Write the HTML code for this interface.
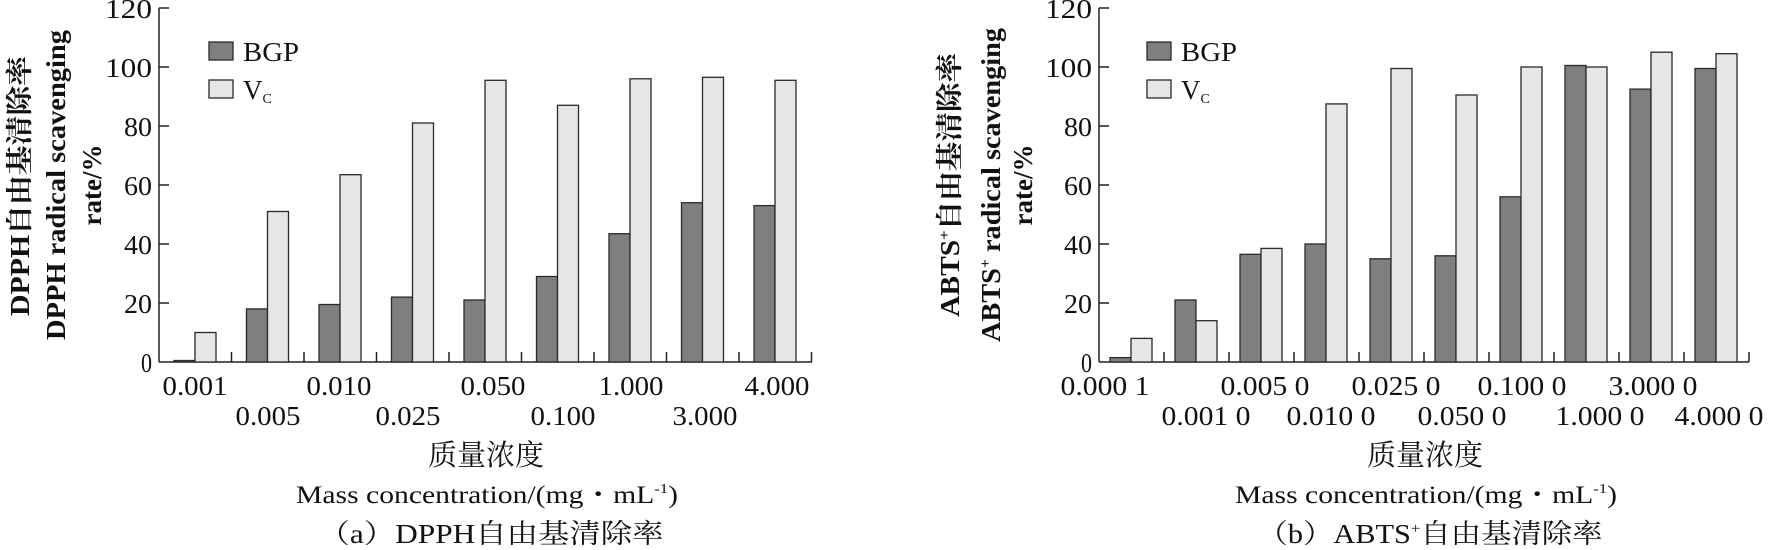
<!DOCTYPE html>
<html><head><meta charset="utf-8"><style>
html,body{margin:0;padding:0;background:#fff;}
svg{display:block;}
text{font-family:"Liberation Serif","Noto Serif CJK SC",serif;fill:#111;}
</style></head><body>
<svg width="1771" height="550" viewBox="0 0 1771 550" xmlns="http://www.w3.org/2000/svg">
<g stroke="#222" stroke-width="1.5" fill="none">
<line x1="159" y1="8" x2="159" y2="362"/><line x1="159" y1="362" x2="812" y2="362"/>
<line x1="1099" y1="8" x2="1099" y2="362"/><line x1="1099" y1="362" x2="1749" y2="362"/>
<path d="M159 303h10M159 244h10M159 185h10M159 126h10M159 67h10M159 8h10M1099 303h10M1099 244h10M1099 185h10M1099 126h10M1099 67h10M1099 8h10"/>
<path d="M231.5 362v-10M304 362v-10M376.5 362v-10M449 362v-10M521.5 362v-10M594 362v-10M666.5 362v-10M739 362v-10M811.5 362v-10M1164 362v-10M1229 362v-10M1294 362v-10M1359 362v-10M1424 362v-10M1489 362v-10M1554 362v-10M1619 362v-10M1684 362v-10M1749 362v-10"/>
</g>
<g stroke="#2a2a2a" stroke-width="1.3" fill="#7f7f7f">
<rect x="174" y="360.5" width="21" height="1.5"/>
<rect x="246.5" y="308.9" width="21" height="53.1"/>
<rect x="319" y="304.5" width="21" height="57.5"/>
<rect x="391.5" y="297.1" width="21" height="64.9"/>
<rect x="464" y="300" width="21" height="62"/>
<rect x="536.5" y="276.5" width="21" height="85.5"/>
<rect x="609" y="233.7" width="21" height="128.3"/>
<rect x="681.5" y="202.7" width="21" height="159.3"/>
<rect x="754" y="205.6" width="21" height="156.4"/>
<rect x="1110" y="357.6" width="21" height="4.4"/>
<rect x="1175" y="300" width="21" height="62"/>
<rect x="1240" y="254.3" width="21" height="107.7"/>
<rect x="1305" y="244" width="21" height="118"/>
<rect x="1370" y="258.8" width="21" height="103.2"/>
<rect x="1435" y="255.8" width="21" height="106.2"/>
<rect x="1500" y="196.8" width="21" height="165.2"/>
<rect x="1565" y="65.5" width="21" height="296.5"/>
<rect x="1630" y="89.1" width="21" height="272.9"/>
<rect x="1695" y="68.5" width="21" height="293.5"/>
</g>
<g stroke="#2a2a2a" stroke-width="1.3" fill="#e6e6e6">
<rect x="195" y="332.5" width="21" height="29.5"/>
<rect x="267.5" y="211.5" width="21" height="150.5"/>
<rect x="340" y="174.7" width="21" height="187.3"/>
<rect x="412.5" y="123" width="21" height="239"/>
<rect x="485" y="80.3" width="21" height="281.7"/>
<rect x="557.5" y="105.3" width="21" height="256.7"/>
<rect x="630" y="78.8" width="21" height="283.2"/>
<rect x="702.5" y="77.3" width="21" height="284.7"/>
<rect x="775" y="80.3" width="21" height="281.7"/>
<rect x="1131" y="338.4" width="21" height="23.6"/>
<rect x="1196" y="320.7" width="21" height="41.3"/>
<rect x="1261" y="248.4" width="21" height="113.6"/>
<rect x="1326" y="103.9" width="21" height="258.1"/>
<rect x="1391" y="68.5" width="21" height="293.5"/>
<rect x="1456" y="95" width="21" height="267"/>
<rect x="1521" y="67" width="21" height="295"/>
<rect x="1586" y="67" width="21" height="295"/>
<rect x="1651" y="52.2" width="21" height="309.8"/>
<rect x="1716" y="53.7" width="21" height="308.3"/>
</g>
<g font-size="27" text-anchor="end">
<text x="152" y="372" textLength="11" lengthAdjust="spacingAndGlyphs">0</text>
<text x="152" y="313" textLength="28" lengthAdjust="spacingAndGlyphs">20</text>
<text x="152" y="254" textLength="28" lengthAdjust="spacingAndGlyphs">40</text>
<text x="152" y="195" textLength="28" lengthAdjust="spacingAndGlyphs">60</text>
<text x="152" y="136" textLength="28" lengthAdjust="spacingAndGlyphs">80</text>
<text x="152" y="77" textLength="47" lengthAdjust="spacingAndGlyphs">100</text>
<text x="152" y="18" textLength="47" lengthAdjust="spacingAndGlyphs">120</text>
<text x="1092" y="372" textLength="11" lengthAdjust="spacingAndGlyphs">0</text>
<text x="1092" y="313" textLength="28" lengthAdjust="spacingAndGlyphs">20</text>
<text x="1092" y="254" textLength="28" lengthAdjust="spacingAndGlyphs">40</text>
<text x="1092" y="195" textLength="28" lengthAdjust="spacingAndGlyphs">60</text>
<text x="1092" y="136" textLength="28" lengthAdjust="spacingAndGlyphs">80</text>
<text x="1092" y="77" textLength="47" lengthAdjust="spacingAndGlyphs">100</text>
<text x="1092" y="18" textLength="47" lengthAdjust="spacingAndGlyphs">120</text>
</g>
<g font-size="27" text-anchor="middle" lengthAdjust="spacingAndGlyphs">
<text x="195" y="395" textLength="65" lengthAdjust="spacingAndGlyphs">0.001</text>
<text x="339" y="395" textLength="65" lengthAdjust="spacingAndGlyphs">0.010</text>
<text x="493" y="395" textLength="65" lengthAdjust="spacingAndGlyphs">0.050</text>
<text x="631" y="395" textLength="65" lengthAdjust="spacingAndGlyphs">1.000</text>
<text x="777" y="395" textLength="65" lengthAdjust="spacingAndGlyphs">4.000</text>
<text x="268" y="425" textLength="65" lengthAdjust="spacingAndGlyphs">0.005</text>
<text x="408" y="425" textLength="65" lengthAdjust="spacingAndGlyphs">0.025</text>
<text x="563" y="425" textLength="65" lengthAdjust="spacingAndGlyphs">0.100</text>
<text x="705" y="425" textLength="65" lengthAdjust="spacingAndGlyphs">3.000</text>
<text x="1105" y="395" textLength="89" lengthAdjust="spacingAndGlyphs">0.000 1</text>
<text x="1265" y="395" textLength="89" lengthAdjust="spacingAndGlyphs">0.005 0</text>
<text x="1396" y="395" textLength="89" lengthAdjust="spacingAndGlyphs">0.025 0</text>
<text x="1522" y="395" textLength="89" lengthAdjust="spacingAndGlyphs">0.100 0</text>
<text x="1653" y="395" textLength="89" lengthAdjust="spacingAndGlyphs">3.000 0</text>
<text x="1206" y="425" textLength="89" lengthAdjust="spacingAndGlyphs">0.001 0</text>
<text x="1331" y="425" textLength="89" lengthAdjust="spacingAndGlyphs">0.010 0</text>
<text x="1462" y="425" textLength="89" lengthAdjust="spacingAndGlyphs">0.050 0</text>
<text x="1600" y="425" textLength="89" lengthAdjust="spacingAndGlyphs">1.000 0</text>
<text x="1719" y="425" textLength="89" lengthAdjust="spacingAndGlyphs">4.000 0</text>
<text x="486" y="465" font-size="29">质量浓度</text>
<text x="1425" y="465" font-size="29">质量浓度</text>
<text x="487" y="503" font-size="25" textLength="382" lengthAdjust="spacingAndGlyphs">Mass concentration/(mg・mL<tspan font-size="14" dy="-10">-1</tspan><tspan dy="10">)</tspan></text>
<text x="1426" y="503" font-size="25" textLength="382" lengthAdjust="spacingAndGlyphs">Mass concentration/(mg・mL<tspan font-size="14" dy="-10">-1</tspan><tspan dy="10">)</tspan></text>
<text x="491" y="543" font-size="27" textLength="345" lengthAdjust="spacingAndGlyphs">（a）DPPH自由基清除率</text>
<text x="1430" y="543" font-size="27" textLength="345" lengthAdjust="spacingAndGlyphs">（b）ABTS<tspan font-size="15" dy="-10">+</tspan><tspan dy="10">自由基清除率</tspan></text>
</g>
<g font-weight="bold" font-size="27" text-anchor="middle">
<text transform="translate(29,186) rotate(-90)" textLength="260" lengthAdjust="spacingAndGlyphs">DPPH自由基清除率</text>
<text transform="translate(65,185) rotate(-90)" textLength="310" lengthAdjust="spacingAndGlyphs">DPPH radical scavenging</text>
<text transform="translate(101,185) rotate(-90)" textLength="81" lengthAdjust="spacingAndGlyphs">rate/%</text>
<text transform="translate(959,185) rotate(-90)" textLength="264" lengthAdjust="spacingAndGlyphs">ABTS<tspan font-size="15" dy="-10">+</tspan><tspan dy="10">自由基清除率</tspan></text>
<text transform="translate(1000,185) rotate(-90)" textLength="314" lengthAdjust="spacingAndGlyphs">ABTS<tspan font-size="15" dy="-10">+</tspan><tspan dy="10"> radical scavenging</tspan></text>
<text transform="translate(1032,185) rotate(-90)" textLength="81" lengthAdjust="spacingAndGlyphs">rate/%</text>
</g>
<g stroke="#2a2a2a" stroke-width="1.3">
<rect x="209" y="42" width="24" height="18" fill="#7f7f7f"/>
<rect x="209" y="80" width="24" height="18" fill="#e6e6e6"/>
<rect x="1147" y="42" width="24" height="18" fill="#7f7f7f"/>
<rect x="1147" y="80" width="24" height="18" fill="#e6e6e6"/>
</g>
<g font-size="27">
<text x="243" y="61" textLength="56" lengthAdjust="spacingAndGlyphs">BGP</text><text x="243" y="99">V<tspan font-size="14" dy="4">C</tspan></text>
<text x="1181" y="61" textLength="56" lengthAdjust="spacingAndGlyphs">BGP</text><text x="1181" y="99">V<tspan font-size="14" dy="4">C</tspan></text>
</g>
</svg>
</body></html>
